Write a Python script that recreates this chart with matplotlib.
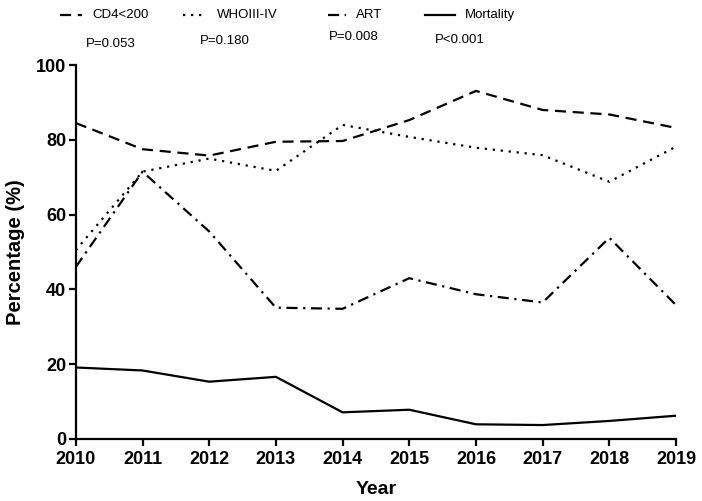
import matplotlib
matplotlib.use('Agg')
import matplotlib.pyplot as plt
from matplotlib.lines import Line2D

plt.rcParams['font.family'] = ['Liberation Sans', 'DejaVu Sans']

# 数据
years = [2010, 2011, 2012, 2013, 2014, 2015, 2016, 2017, 2018, 2019]
cd4 = [84.5, 77.5, 75.8, 79.5, 79.7, 85.3, 93.1, 88.0, 86.8, 83.2]
who = [50.5, 71.5, 75.0, 71.7, 84.0, 80.8, 77.9, 75.9, 68.8, 78.2]
art = [46.0, 71.5, 55.5, 35.1, 34.8, 43.0, 38.7, 36.5, 53.8, 35.8]
mortality = [19.1, 18.3, 15.3, 16.6, 7.1, 7.8, 3.9, 3.7, 4.8, 6.2]

series_names = ['CD4<200', 'WHOIII-IV', 'ART', 'Mortality']
p_values = ['P=0.053', 'P=0.180', 'P=0.008', 'P<0.001']
y_ticks = [0, 20, 40, 60, 80, 100]

styles = [(0, (5, 3)), (0, (1, 2.6)), (0, (5, 2.5, 1, 2.5)), '-']

fig = plt.figure(figsize=(7.02, 5.01), dpi=100)
ax = fig.add_axes([0.108, 0.124, 0.855, 0.746])

for vals, ls in zip([cd4, who, art, mortality], styles):
    ax.plot(years, vals, color='black', linestyle=ls, linewidth=1.6)

ax.set_xlim(2010, 2019)
ax.set_ylim(0, 100)
ax.set_xticks(years)
ax.set_yticks(y_ticks)
for side in ['top', 'right']:
    ax.spines[side].set_visible(False)
for side in ['left', 'bottom']:
    ax.spines[side].set_linewidth(1.6)
ax.tick_params(direction='out', length=5, width=1.6, labelsize=13, pad=2)
ax.tick_params(axis='x', pad=4)
for lab in ax.get_xticklabels() + ax.get_yticklabels():
    lab.set_fontweight('bold')
ax.set_xlabel('Year', fontsize=14, fontweight='bold', labelpad=9)
ax.set_ylabel('Percentage (%)', fontsize=14.5, fontweight='bold', labelpad=8)

# 顶部图例和P值
leg_x = [60, 183, 328, 425]
leg_len = [22, 24, 18, 30]
p_pos = [(111, 44), (225, 41), (354, 37), (460, 40)]
W, H = 702, 501
for name, ls, x0, ln, pv, (px, py) in zip(series_names, styles, leg_x, leg_len,
                                          p_values, p_pos):
    fig.add_artist(Line2D([x0 / W, (x0 + ln) / W], [1 - 15 / H, 1 - 15 / H],
                          color='black', linestyle=ls, linewidth=1.6,
                          transform=fig.transFigure))
    fig.text((x0 + ln + 10) / W, 1 - 15 / H, name, fontsize=9.5,
             ha='left', va='center')
    fig.text(px / W, 1 - py / H, pv, fontsize=9.5, ha='center', va='center')

fig.savefig('out.png', dpi=100)
